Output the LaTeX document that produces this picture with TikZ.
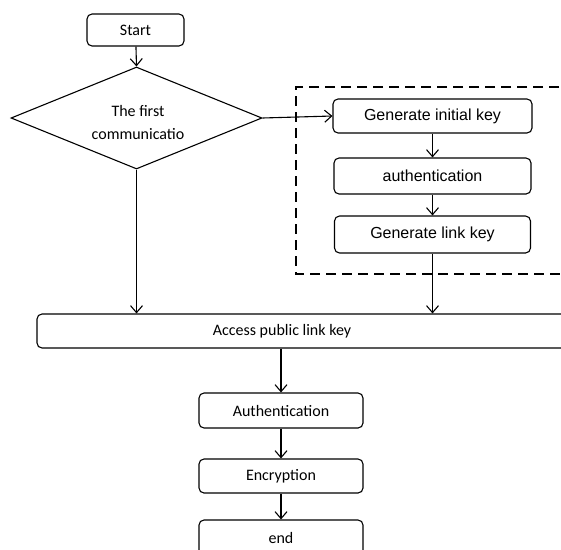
\documentclass[tikz,border=0pt]{standalone}
\usepackage{fontspec}
\setmainfont{Carlito}
\newfontfamily\arialfont{Liberation Sans}
\usetikzlibrary{shapes.geometric,arrows.meta}
\begin{document}
\begin{tikzpicture}[x=1pt,y=-1pt,line width=1.1pt,
  box/.style={draw,rounded corners=5pt,inner sep=0pt,font=\fontsize{16}{19}\selectfont},
  abox/.style={box,font=\arialfont\fontsize{16}{19}\selectfont},
  arr/.style={-{Straight Barb[length=7pt,width=12pt,line width=1.1pt]}},
  dashbox/.style={draw,dash pattern=on 10pt off 6pt}]
\path[use as bounding box] (0,0) rectangle (561,549);
\clip (0,0) rectangle (561,549);
% top
\node[box,minimum width=97pt,minimum height=32pt] (start) at (135.5,30) {Start};
\node[draw,diamond,minimum width=251pt,minimum height=102pt,inner sep=0pt] (dia) at (136.5,118) {};
\node[align=center,inner sep=0pt,font=\fontsize{16}{23}\selectfont] (diat) at (138,122) {The first\\communicatio};
% dashed group
\draw[dashbox] (575,87) -- (296,87) -- (296,274) -- (575,274);
\node[abox,minimum width=199pt,minimum height=34pt] (gik) at (432.5,116) {Generate initial key};
\node[abox,minimum width=197pt,minimum height=36pt] (aut1) at (432.5,176) {authentication};
\node[abox,minimum width=196pt,minimum height=37pt] (glk) at (432.5,234.5) {Generate link key};
% access box (extends past right edge)
\node[box,minimum width=563pt,minimum height=34pt] (acc) at (318.5,331) {};
\node[font=\fontsize{16}{19}\selectfont,inner sep=0pt] (acct) at (282,331) {Access public link key};
% bottom chain
\node[box,minimum width=164pt,minimum height=35pt] (aut2) at (281,410.5) {Authentication};
\node[box,minimum width=164pt,minimum height=34pt] (enc) at (281,476) {Encryption};
\node[box,minimum width=164pt,minimum height=40pt,text depth=0pt] (fin) at (281,540) {\raisebox{4pt}{end}};
% connectors
\draw[arr] (start) -- (dia.north);
\draw[arr] (dia.east) -- (gik.west);
\draw[arr] (gik) -- (aut1);
\draw[arr] (aut1) -- (glk);
\draw[arr] (dia.south) -- (dia.south |- acc.north);
\draw[arr] (glk.south) -- (glk.south |- acc.north);
\draw[arr] (aut2.north |- acc.south) -- (aut2.north);
\draw[arr] (aut2) -- (enc);
\draw[arr] (enc) -- (fin);
\end{tikzpicture}
\end{document}
